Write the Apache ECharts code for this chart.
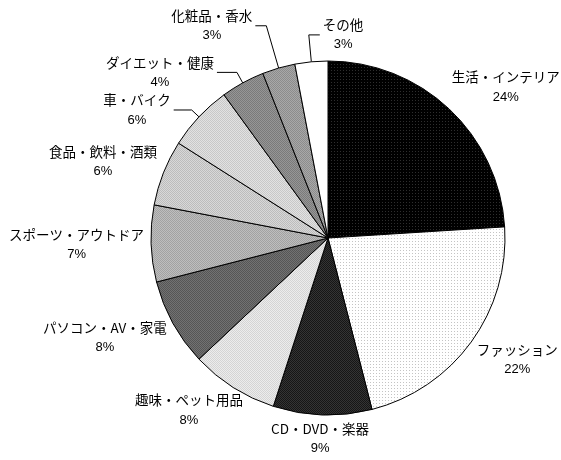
<!DOCTYPE html>
<html>
<head>
<meta charset="utf-8">
<script src="https://cdn.jsdelivr.net/npm/echarts@6/dist/echarts.min.js"></script>
<style>
html,body{margin:0;padding:0;background:#fff;}
#c{width:561px;height:460px;}
</style>
</head>
<body>
<div id="c"></div>
<script>
const categories = ['生活・インテリア','ファッション','CD・DVD・楽器','趣味・ペット用品','パソコン・AV・家電','スポーツ・アウトドア','食品・飲料・酒類','車・バイク','ダイエット・健康','化粧品・香水','その他'];
const values = [24, 22, 9, 8, 8, 7, 6, 6, 4, 3, 3];

function pattern(type, c1, c2) {
  const cv = document.createElement('canvas');
  const n = type === 'dot' ? 3 : 2;
  cv.width = n; cv.height = n;
  const ctx = cv.getContext('2d');
  ctx.fillStyle = c1; ctx.fillRect(0, 0, n, n);
  ctx.fillStyle = c2;
  if (type === 'dot') { ctx.fillRect(1, 1, 1, 1); }
  else { ctx.fillRect(1, 0, 1, 1); ctx.fillRect(0, 1, 1, 1); }
  return { image: cv, repeat: 'repeat' };
}

const fills = [
  pattern('dot', '#000000', '#2e2e2e'),
  pattern('dot', '#ffffff', '#c4c4c4'),
  pattern('checker', '#161616', '#343434'),
  pattern('checker', '#d4d4d4', '#ececec'),
  pattern('checker', '#565656', '#727272'),
  pattern('checker', '#a2a2a2', '#bebebe'),
  pattern('checker', '#bcbcbc', '#d8d8d8'),
  pattern('checker', '#c8c8c8', '#e2e2e2'),
  pattern('checker', '#7a7a7a', '#969696'),
  pattern('checker', '#8c8c8c', '#a8a8a8'),
  '#ffffff'
];

const CX = 328, CY = 238, R = 177;
// leader-line settings (radial length, horizontal length, side)
const lineItems = {
  7: { length: 10, length2: 18, dir: -1 },
  8: { length: 12, length2: 20, dir: -1 },
  9: { length: 44, length2: 11, dir: -1 },
  10: { length: 27, length2: 11, dir: 1 }
};

const total = values.reduce((a, b) => a + b, 0);
const mids = [];
let acc = 0;
values.forEach(v => { mids.push((acc + v / 2) / total * Math.PI * 2); acc += v; });

const data = categories.map((name, i) => {
  const item = { name: name, value: values[i], itemStyle: { color: fills[i] } };
  if (lineItems[i]) {
    item.labelLine = { show: true, length: lineItems[i].length, length2: lineItems[i].length2 };
  } else {
    item.labelLine = { show: false, length: 4, length2: 0 };
  }
  return item;
});

const FONT = '"Noto Sans CJK JP", sans-serif';
const chart = echarts.init(document.getElementById('c'), null, { renderer: 'canvas' });
chart.setOption({
  backgroundColor: '#ffffff',
  animation: false,
  series: [{
    type: 'pie',
    center: [CX, CY],
    radius: R,
    startAngle: 90,
    clockwise: true,
    avoidLabelOverlap: false,
    data: data,
    itemStyle: { borderColor: '#000', borderWidth: 1 },
    emphasis: { disabled: true },
    labelLine: { lineStyle: { color: '#000', width: 1 }, smooth: false },
    label: {
      show: true,
      position: 'outside',
      distanceToLabelLine: 3,
      formatter: '{n|{b}}\n{p|{d}%}',
      color: '#000',
      fontFamily: FONT,
      rich: {
        n: { fontSize: 13.5, lineHeight: 20, align: 'center', color: '#000', fontFamily: FONT },
        p: { fontSize: 13, lineHeight: 20, align: 'center', color: '#000', fontFamily: '"Liberation Sans", Arial, sans-serif' }
      }
    },
    labelLayout: function (params) {
      const i = params.dataIndex;
      const a = mids[i];
      const ux = Math.sin(a), uy = -Math.cos(a);
      const li = lineItems[i];
      if (li) {
        const p1 = [CX + ux * R, CY + uy * R];
        const p2 = [CX + ux * (R + li.length), CY + uy * (R + li.length)];
        const p3 = [p2[0] + li.dir * li.length2, p2[1]];
        return {
          x: p3[0] + li.dir * 3,
          y: p2[1],
          align: li.dir > 0 ? 'left' : 'right',
          verticalAlign: 'middle',
          labelLinePoints: [p1, p2, p3]
        };
      }
      const g = 7, k = 1.4;
      const sx = Math.max(-1, Math.min(1, ux * k));
      const sy = Math.max(-1, Math.min(1, uy * k));
      const w = params.labelRect.width, h = params.labelRect.height;
      return {
        x: CX + ux * (R + g) + sx * w / 2,
        y: CY + uy * (R + g) + sy * h / 2,
        align: 'center',
        verticalAlign: 'middle'
      };
    }
  }]
});
</script>
</body>
</html>
